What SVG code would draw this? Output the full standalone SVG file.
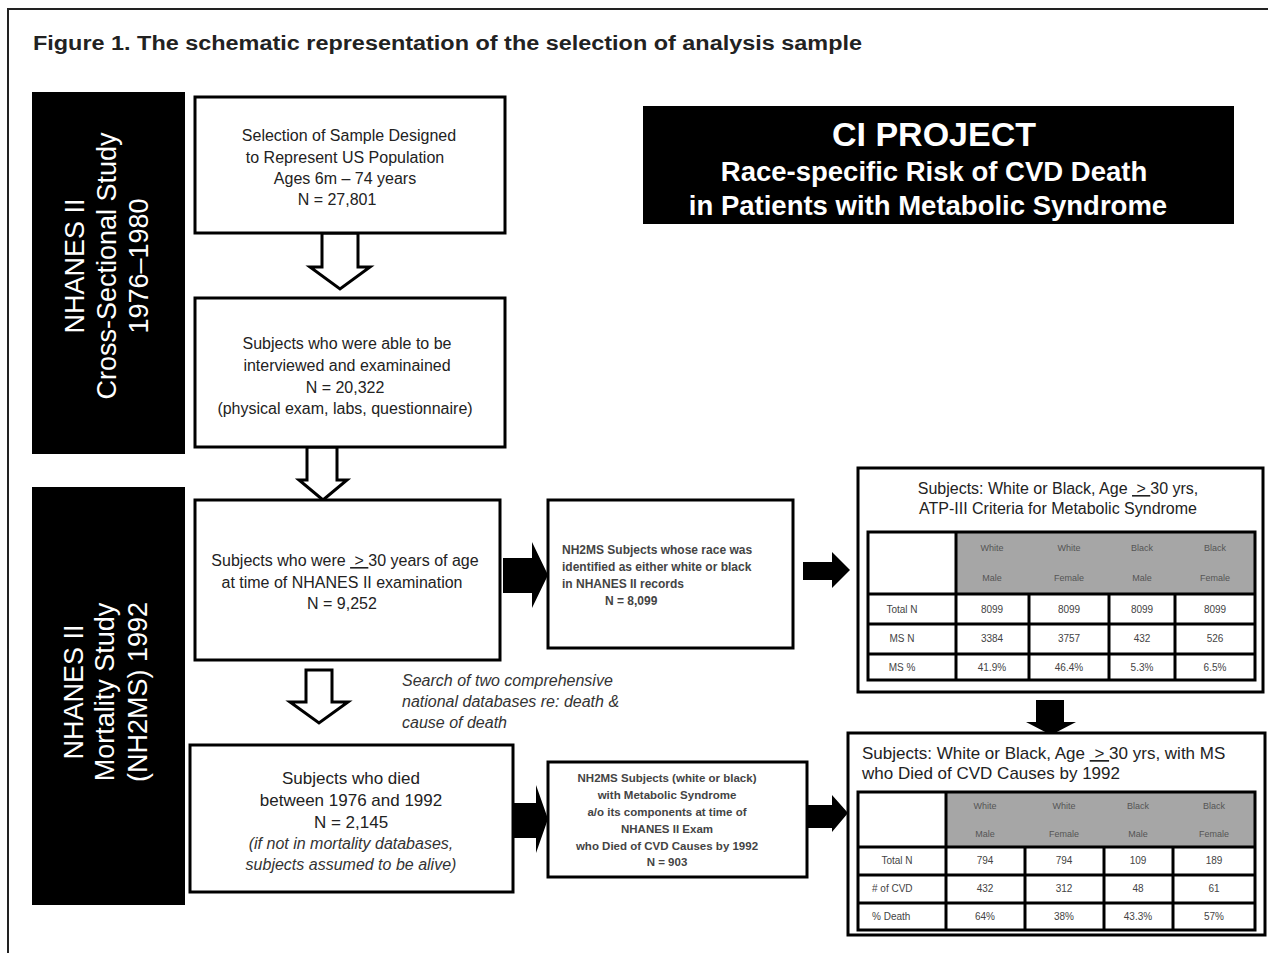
<svg xmlns="http://www.w3.org/2000/svg" width="1268" height="953" viewBox="0 0 1268 953">
<style>
text{font-family:"Liberation Sans",Arial,sans-serif;}
.box{fill:#fff;stroke:#000;stroke-width:3;}
.side{fill:#000;}
.sideT{fill:#fff;font-size:27px;text-anchor:middle;}
.t16{font-size:16px;fill:#222;text-anchor:middle;}
.t17{font-size:17px;fill:#222;text-anchor:middle;}
.it{font-size:16px;fill:#333;font-style:italic;}
.sm{font-size:12px;font-weight:bold;fill:#444;}
.smc{font-size:11.5px;font-weight:bold;fill:#444;text-anchor:middle;}
.hdr{font-size:9px;fill:#555;text-anchor:middle;}
.cell{font-size:10px;fill:#444;text-anchor:middle;}
.cellL{font-size:10px;fill:#444;text-anchor:start;}
.hollow{fill:#fff;stroke:#000;stroke-width:3;stroke-linejoin:miter;}
.solid{fill:#000;}
.grid{stroke:#000;stroke-width:3;fill:none;}
.gray{fill:#a6a6a6;}
.proj{fill:#fff;font-weight:bold;text-anchor:middle;}
</style>
<rect x="8" y="9" width="1275" height="960" fill="none" stroke="#222" stroke-width="2"/>
<text x="33" y="50" font-size="20" font-weight="bold" fill="#222" textLength="829" lengthAdjust="spacingAndGlyphs">Figure 1. The schematic representation of the selection of analysis sample</text>

<g id="side1">
<rect class="side" x="32" y="92" width="153" height="362"/>
<g transform="translate(108,266) rotate(-90)">
<text class="sideT" y="-24">NHANES II</text>
<text class="sideT" y="8">Cross-Sectional Study</text>
<text class="sideT" y="40">1976–1980</text>
</g>
</g>

<g id="side2">
<rect class="side" x="32" y="487" width="153" height="418"/>
<g transform="translate(108,692) rotate(-90)">
<text class="sideT" y="-25">NHANES II</text>
<text class="sideT" y="6">Mortality Study</text>
<text class="sideT" y="39">(NH2MS) 1992</text>
</g>
</g>

<g id="project">
<rect x="643" y="106" width="591" height="118" fill="#000"/>
<text class="proj" x="934" y="146" font-size="34">CI PROJECT</text>
<text class="proj" x="934" y="181" font-size="27.5">Race-specific Risk of CVD Death</text>
<text class="proj" x="928" y="215" font-size="27.5">in Patients with Metabolic Syndrome</text>
</g>

<g id="connectors">
<polygon class="hollow" points="322,233 358,233 358,267 370,267 340,289 310,267 322,267"/>
<polygon class="hollow" points="307,447 337,447 337,480 347,480 323,500 299,480 307,480"/>
<polygon class="hollow" points="306,670 332,670 332,702 348,702 319,723 290,702 306,702"/>
<polygon class="solid" points="503,558 532,558 532,542 548,575 532,608 532,593 503,593"/>
<polygon class="solid" points="803,562 832,562 832,552 850,570 832,588 832,580 803,580"/>
<polygon class="solid" points="1036,700 1064,700 1064,722 1076,722 1051,735 1026,722 1036,722"/>
<polygon class="solid" points="513,803 536,803 536,785 548,819 536,853 536,838 513,838"/>
<polygon class="solid" points="807,805 832,805 832,795 848,813 832,832 832,828 807,828"/>
</g>

<g id="boxA">
<rect class="box" x="195" y="97" width="310" height="136"/>
<text class="t16" x="349" y="141">Selection of Sample Designed</text>
<text class="t16" x="345" y="163">to Represent US Population</text>
<text class="t16" x="345" y="184">Ages 6m  – 74 years</text>
<text class="t16" x="337" y="205">N = 27,801</text>
</g>

<g id="boxB">
<rect class="box" x="195" y="298" width="310" height="149"/>
<text class="t16" x="347" y="349">Subjects who were able to be</text>
<text class="t16" x="347" y="371">interviewed and  examinained</text>
<text class="t16" x="345" y="393">N = 20,322</text>
<text class="t16" x="345" y="414">(physical exam, labs, questionnaire)</text>
</g>

<g id="boxC">
<rect class="box" x="195" y="500" width="305" height="160"/>
<text class="t16" x="345" y="566">Subjects who were&#160;<tspan text-decoration="underline">&#160;&gt;&#160;</tspan>30 years of age</text>
<text class="t16" x="342" y="588">at time of NHANES II examination</text>
<text class="t16" x="342" y="609">N = 9,252</text>
</g>

<g id="boxD">
<rect class="box" x="548" y="500" width="245" height="148"/>
<text class="sm" x="562" y="554">NH2MS Subjects whose race was</text>
<text class="sm" x="562" y="571">identified as either white or black</text>
<text class="sm" x="562" y="588">in NHANES II  records</text>
<text class="sm" x="605" y="605">N = 8,099</text>
</g>

<g id="search">
<text class="it" x="402" y="686">Search of two comprehensive</text>
<text class="it" x="402" y="707">national databases re: death &amp;</text>
<text class="it" x="402" y="728">cause of death</text>
</g>

<g id="boxE">
<rect class="box" x="190" y="745" width="323" height="147"/>
<text class="t17" x="351" y="784">Subjects who died</text>
<text class="t17" x="351" y="806">between 1976 and 1992</text>
<text class="t17" x="351" y="828">N = 2,145</text>
<text class="it" x="351" y="849" text-anchor="middle">(if not in mortality databases,</text>
<text class="it" x="351" y="870" text-anchor="middle">subjects assumed to be alive)</text>
</g>

<g id="boxF">
<rect class="box" x="548" y="762" width="259" height="115"/>
<text class="smc" x="667" y="782">NH2MS Subjects (white or black)</text>
<text class="smc" x="667" y="799">with Metabolic Syndrome</text>
<text class="smc" x="667" y="816">a/o its components at time of</text>
<text class="smc" x="667" y="833">NHANES II Exam</text>
<text class="smc" x="667" y="850">who Died of CVD Causes by 1992</text>
<text class="smc" x="667" y="866">N = 903</text>
</g>

<g id="table1">
<rect class="box" x="858" y="468" width="405" height="224" stroke-width="3.5"/>
<text class="t16" x="1058" y="494">Subjects: White or Black, Age&#160;<tspan text-decoration="underline">&#160;&gt;&#160;</tspan>30 yrs,</text>
<text class="t16" x="1058" y="514">ATP-III Criteria for Metabolic Syndrome</text>
<rect class="gray" x="956" y="532" width="299" height="62"/>
<rect class="grid" x="868" y="532" width="387" height="148"/>
<line class="grid" x1="868" y1="594" x2="1255" y2="594"/>
<line class="grid" x1="868" y1="624" x2="1255" y2="624"/>
<line class="grid" x1="868" y1="654" x2="1255" y2="654"/>
<line class="grid" x1="956" y1="532" x2="956" y2="680"/>
<line class="grid" x1="1029" y1="594" x2="1029" y2="680"/>
<line class="grid" x1="1109" y1="594" x2="1109" y2="680"/>
<line class="grid" x1="1175" y1="594" x2="1175" y2="680"/>
<text class="hdr" x="992" y="551">White</text><text class="hdr" x="992" y="581">Male</text>
<text class="hdr" x="1069" y="551">White</text><text class="hdr" x="1069" y="581">Female</text>
<text class="hdr" x="1142" y="551">Black</text><text class="hdr" x="1142" y="581">Male</text>
<text class="hdr" x="1215" y="551">Black</text><text class="hdr" x="1215" y="581">Female</text>
<text class="cell" x="902" y="613">Total N</text>
<text class="cell" x="992" y="613">8099</text><text class="cell" x="1069" y="613">8099</text><text class="cell" x="1142" y="613">8099</text><text class="cell" x="1215" y="613">8099</text>
<text class="cell" x="902" y="642">MS N</text>
<text class="cell" x="992" y="642">3384</text><text class="cell" x="1069" y="642">3757</text><text class="cell" x="1142" y="642">432</text><text class="cell" x="1215" y="642">526</text>
<text class="cell" x="902" y="671">MS %</text>
<text class="cell" x="992" y="671">41.9%</text><text class="cell" x="1069" y="671">46.4%</text><text class="cell" x="1142" y="671">5.3%</text><text class="cell" x="1215" y="671">6.5%</text>
</g>

<g id="table2">
<rect class="box" x="848" y="733" width="417" height="202" stroke-width="3.5"/>
<text x="862" y="759" font-size="17" fill="#222">Subjects: White or Black, Age&#160;<tspan text-decoration="underline">&#160;&gt;&#160;</tspan>30 yrs, with MS</text>
<text x="862" y="779" font-size="17" fill="#222">who Died of CVD Causes by 1992</text>
<rect class="gray" x="946" y="792" width="309" height="55"/>
<rect class="grid" x="858" y="792" width="397" height="138"/>
<line class="grid" x1="858" y1="847" x2="1255" y2="847"/>
<line class="grid" x1="858" y1="875" x2="1255" y2="875"/>
<line class="grid" x1="858" y1="903" x2="1255" y2="903"/>
<line class="grid" x1="946" y1="792" x2="946" y2="930"/>
<line class="grid" x1="1025" y1="847" x2="1025" y2="930"/>
<line class="grid" x1="1104" y1="847" x2="1104" y2="930"/>
<line class="grid" x1="1173" y1="847" x2="1173" y2="930"/>
<text class="hdr" x="985" y="809">White</text><text class="hdr" x="985" y="837">Male</text>
<text class="hdr" x="1064" y="809">White</text><text class="hdr" x="1064" y="837">Female</text>
<text class="hdr" x="1138" y="809">Black</text><text class="hdr" x="1138" y="837">Male</text>
<text class="hdr" x="1214" y="809">Black</text><text class="hdr" x="1214" y="837">Female</text>
<text class="cell" x="897" y="864">Total N</text>
<text class="cell" x="985" y="864">794</text><text class="cell" x="1064" y="864">794</text><text class="cell" x="1138" y="864">109</text><text class="cell" x="1214" y="864">189</text>
<text class="cellL" x="872" y="892"># of CVD</text>
<text class="cell" x="985" y="892">432</text><text class="cell" x="1064" y="892">312</text><text class="cell" x="1138" y="892">48</text><text class="cell" x="1214" y="892">61</text>
<text class="cellL" x="872" y="920">% Death</text>
<text class="cell" x="985" y="920">64%</text><text class="cell" x="1064" y="920">38%</text><text class="cell" x="1138" y="920">43.3%</text><text class="cell" x="1214" y="920">57%</text>
</g>
</svg>
